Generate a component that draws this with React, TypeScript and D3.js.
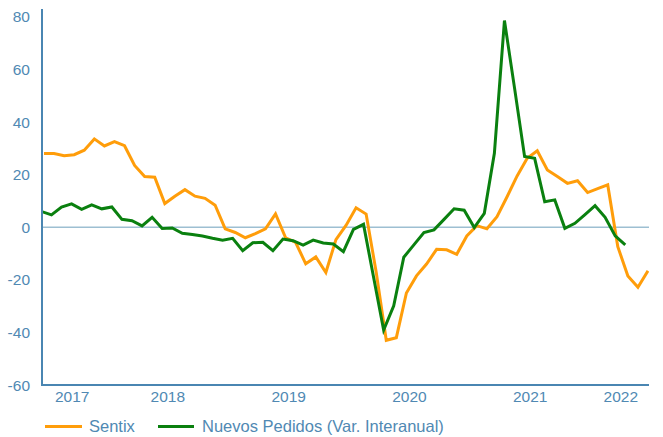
import React from "react";
import * as d3 from "d3";

const startYear = 2017;
const startMonth = 5; // June (0-based)

const sentix = [
  28.0, 28.0, 27.2, 27.6, 29.3, 33.6, 30.9, 32.6, 31.0, 23.5, 19.3, 19.0, 9.0,
  11.8, 14.3, 11.8, 11.0, 8.4, -0.6, -2.0, -4.0, -2.4, -0.6, 5.1, -4.0, -5.8,
  -13.9, -11.3, -17.2, -4.7, 0.7, 7.4, 5.0, -17.1, -43.0, -42.0, -25.0, -18.5,
  -14.0, -8.4, -8.6, -10.3, -3.3, 0.6, -0.6, 4.0, 11.6, 19.5, 26.2, 29.1, 21.8,
  19.3, 16.7, 17.7, 13.2, 14.7, 16.1, -7.4, -18.5, -22.8, -16.6,
];

const nuevosPedidos = [
  6.0, 4.7, 7.7, 8.9, 6.8, 8.5, 7.0, 7.7, 3.0, 2.5, 0.5, 3.8, -0.5, -0.3, -2.3,
  -2.8, -3.3, -4.2, -4.9, -4.2, -8.9, -5.9, -5.7, -8.9, -4.5, -5.1, -6.8, -4.9,
  -6.0, -6.4, -9.3, -0.8, 1.1, -19.0, -39.1, -29.9, -11.4, -6.7, -2.0, -1.0, 3.0,
  7.0, 6.5, -0.1, 5.3, 28.1, 78.6, 53.0, 26.9, 26.2, 9.7, 10.4, -0.4, 1.5, 4.8,
  8.2, 3.8, -3.3, -6.7,
];

const yTicks = [-60, -40, -20, 0, 20, 40, 60, 80];
const years = [2017, 2018, 2019, 2020, 2021, 2022];
const seriesNames = ["Sentix", "Nuevos Pedidos (Var. Interanual)"];

const W = 663;
const H = 437;
const left = 42;
const right = 649;
const top = 9;
const bottom = 385;
const greenShift = -0.26;
const axisColor = "#4a86b2";
const textColor = "#5089b3";
const orange = "#ff9d0a";
const green = "#0a800f";
const font = "'Liberation Sans', Arial, sans-serif";

export default function App() {
  const n = sentix.length;
  const x = d3.scaleLinear().domain([0, n - 1]).range([44, 648]);
  const y = d3.scaleLinear().domain([-60, 83]).range([bottom, top]);

  const lineO = d3
    .line<number>()
    .x((_, i) => x(i))
    .y((d) => y(d));
  const lineG = d3
    .line<number>()
    .x((_, i) => x(i + greenShift))
    .y((d) => y(d));

  const yearLabels = years.map((yr) => {
    const first = Math.max(0, (yr - startYear) * 12 - startMonth);
    const last = Math.min(n - 1, (yr - startYear) * 12 - startMonth + 11);
    return { yr, pos: x((first + last) / 2) - 2 };
  });

  return (
    <svg
      width={W}
      height={H}
      style={{ position: "absolute", left: 0, top: 0 }}
      fontFamily={font}
    >
      <defs>
        <clipPath id="plot">
          <rect x={43} y={0} width={right - 43} height={bottom} />
        </clipPath>
      </defs>
      <rect width={W} height={H} fill="#fff" />
      <line
        x1={left}
        x2={right}
        y1={y(0)}
        y2={y(0)}
        stroke="#9dbfd2"
        strokeWidth={1.6}
      />
      <g clipPath="url(#plot)" fill="none" strokeLinejoin="miter" strokeWidth={3}>
        <path d={lineO(sentix) || ""} stroke={orange} />
        <path d={lineG(nuevosPedidos) || ""} stroke={green} />
      </g>
      <line x1={left} x2={left} y1={top} y2={bottom + 1} stroke={axisColor} strokeWidth={2} />
      <line x1={left - 1} x2={right} y1={bottom} y2={bottom} stroke={axisColor} strokeWidth={2} />
      {yTicks.map((t) => (
        <text
          key={t}
          x={30}
          y={y(t)}
          textAnchor="end"
          dominantBaseline="central"
          fontSize={15.5}
          fill={textColor}
        >
          {t}
        </text>
      ))}
      {yearLabels.map((l) => (
        <text
          key={l.yr}
          x={l.pos}
          y={401.5}
          textAnchor="middle"
          fontSize={15.5}
          fill={textColor}
        >
          {l.yr}
        </text>
      ))}
      <line x1={45} x2={82} y1={426.5} y2={426.5} stroke={orange} strokeWidth={3} />
      <text x={89} y={431.5} fontSize={16.5} fill={textColor}>
        {seriesNames[0]}
      </text>
      <line x1={158} x2={194} y1={426.5} y2={426.5} stroke={green} strokeWidth={3} />
      <text x={202} y={431.5} fontSize={16.5} fill={textColor}>
        {seriesNames[1]}
      </text>
    </svg>
  );
}
